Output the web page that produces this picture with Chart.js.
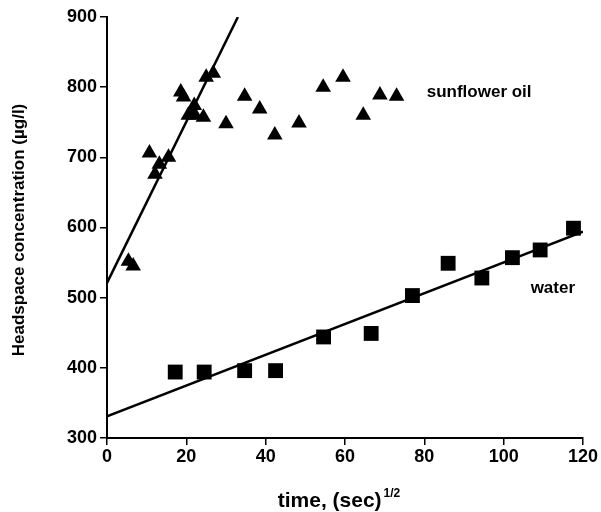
<!DOCTYPE html>
<html>
<head>
<meta charset="utf-8">
<script src="https://cdn.jsdelivr.net/npm/chart.js@4"></script>
<style>
  html, body { margin: 0; padding: 0; background: #fff; }
  #wrap { width: 601px; height: 512px; }
</style>
</head>
<body>
<div id="wrap"><canvas id="headspaceChart" width="601" height="512"></canvas></div>
<script>
// sunflower oil readings (triangles)
const oilTime = [5.4, 6.6, 10.7, 12.1, 13.2, 15.5, 18.6, 19.3, 20.5, 22, 22.2, 24.3, 25, 26.8, 30, 34.7, 38.5, 42.3, 48.4, 54.5, 59.5, 64.6, 68.8, 73];
const oilConc = [552, 545, 706, 676, 690, 700, 793, 786, 760, 774, 760, 757, 814, 820, 748, 787, 769, 732, 749, 800, 814, 760, 789, 787];

// water readings (squares)
const waterTime = [17.2, 24.5, 34.7, 42.5, 54.6, 66.6, 77, 86, 94.5, 102.2, 109.2, 117.6];
const waterConc = [394, 394, 396, 396, 444, 449, 503, 549, 528, 557, 568, 599];

// fitted lines, two end points each
const oilFitTime = [0, 33];
const oilFitConc = [521, 900];
const waterFitTime = [0, 120];
const waterFitConc = [331, 594];

// axis ticks
const xTicks = [0, 20, 40, 60, 80, 100, 120];
const yTicks = [300, 400, 500, 600, 700, 800, 900];

const font = '"Liberation Sans", Arial, Helvetica, sans-serif';

const toPoints = (xs, ys) => xs.map((x, i) => ({ x: x, y: ys[i] }));

// text labels next to the series plus the axis titles
const labelPlugin = {
    id: 'labels',
    afterDraw(chart) {
        const ctx = chart.ctx;
        const x = chart.scales.x;
        const y = chart.scales.y;
        ctx.save();
        ctx.fillStyle = '#000';
        ctx.textBaseline = 'middle';
        ctx.textAlign = 'left';
        ctx.font = 'bold 17px ' + font;
        ctx.fillText('sunflower oil', x.getPixelForValue(80.6), y.getPixelForValue(793));
        ctx.fillText('water', x.getPixelForValue(106.8), y.getPixelForValue(513));

        // x title with the 1/2 superscript
        ctx.font = 'bold 21px ' + font;
        const main = 'time, (sec)';
        const w = ctx.measureText(main).width;
        ctx.font = 'bold 12px ' + font;
        const sw = ctx.measureText('1/2').width;
        const left = 339 - (w + sw + 2) / 2;
        ctx.textBaseline = 'alphabetic';
        ctx.font = 'bold 21px ' + font;
        ctx.fillText(main, left, 507);
        ctx.font = 'bold 12px ' + font;
        ctx.fillText('1/2', left + w + 2, 497);

        // y title
        ctx.translate(19, 230);
        ctx.rotate(-Math.PI / 2);
        ctx.textAlign = 'center';
        ctx.textBaseline = 'middle';
        ctx.font = 'bold 17px ' + font;
        ctx.fillText('Headspace concentration (\u00b5g/l)', 0, 0);
        ctx.restore();
    }
};

const axisLook = {
    grid: { display: true, drawOnChartArea: false, drawTicks: true, tickLength: 7, color: '#000', lineWidth: 1.5 },
    border: { display: true, color: '#000', width: 2 },
    ticks: { color: '#000', font: { family: font, size: 18, weight: 'bold' }, autoSkip: false }
};

const chart = new Chart(document.getElementById('headspaceChart'), {
    type: 'scatter',
    data: {
        datasets: [
            {
                label: 'sunflower oil',
                data: toPoints(oilTime, oilConc),
                pointStyle: 'triangle',
                pointRadius: 9,
                backgroundColor: '#000',
                borderColor: '#000',
                borderWidth: 0
            },
            {
                label: 'water',
                data: toPoints(waterTime, waterConc),
                pointStyle: 'rect',
                pointRadius: 10.5,
                backgroundColor: '#000',
                borderColor: '#000',
                borderWidth: 0
            },
            {
                label: 'oil fit',
                data: toPoints(oilFitTime, oilFitConc),
                showLine: true,
                pointRadius: 0,
                borderColor: '#000',
                borderWidth: 2.5
            },
            {
                label: 'water fit',
                data: toPoints(waterFitTime, waterFitConc),
                showLine: true,
                pointRadius: 0,
                borderColor: '#000',
                borderWidth: 2.5
            }
        ]
    },
    options: {
        responsive: false,
        animation: false,
        layout: { padding: { left: 0, top: 17, right: 18, bottom: 0 } },
        plugins: {
            legend: { display: false },
            tooltip: { enabled: false }
        },
        scales: {
            x: {
                type: 'linear',
                min: 0,
                max: 120,
                afterBuildTicks: s => { s.ticks = xTicks.map(v => ({ value: v })); },
                afterFit: s => { s.height = 74; },
                grid: axisLook.grid,
                border: axisLook.border,
                ticks: Object.assign({ padding: 1 }, axisLook.ticks)
            },
            y: {
                type: 'linear',
                min: 300,
                max: 900,
                afterBuildTicks: s => { s.ticks = yTicks.map(v => ({ value: v })); },
                afterFit: s => { s.width = 107; },
                grid: axisLook.grid,
                border: axisLook.border,
                ticks: Object.assign({ padding: 3 }, axisLook.ticks)
            }
        }
    },
    plugins: [labelPlugin]
});
</script>
</body>
</html>
